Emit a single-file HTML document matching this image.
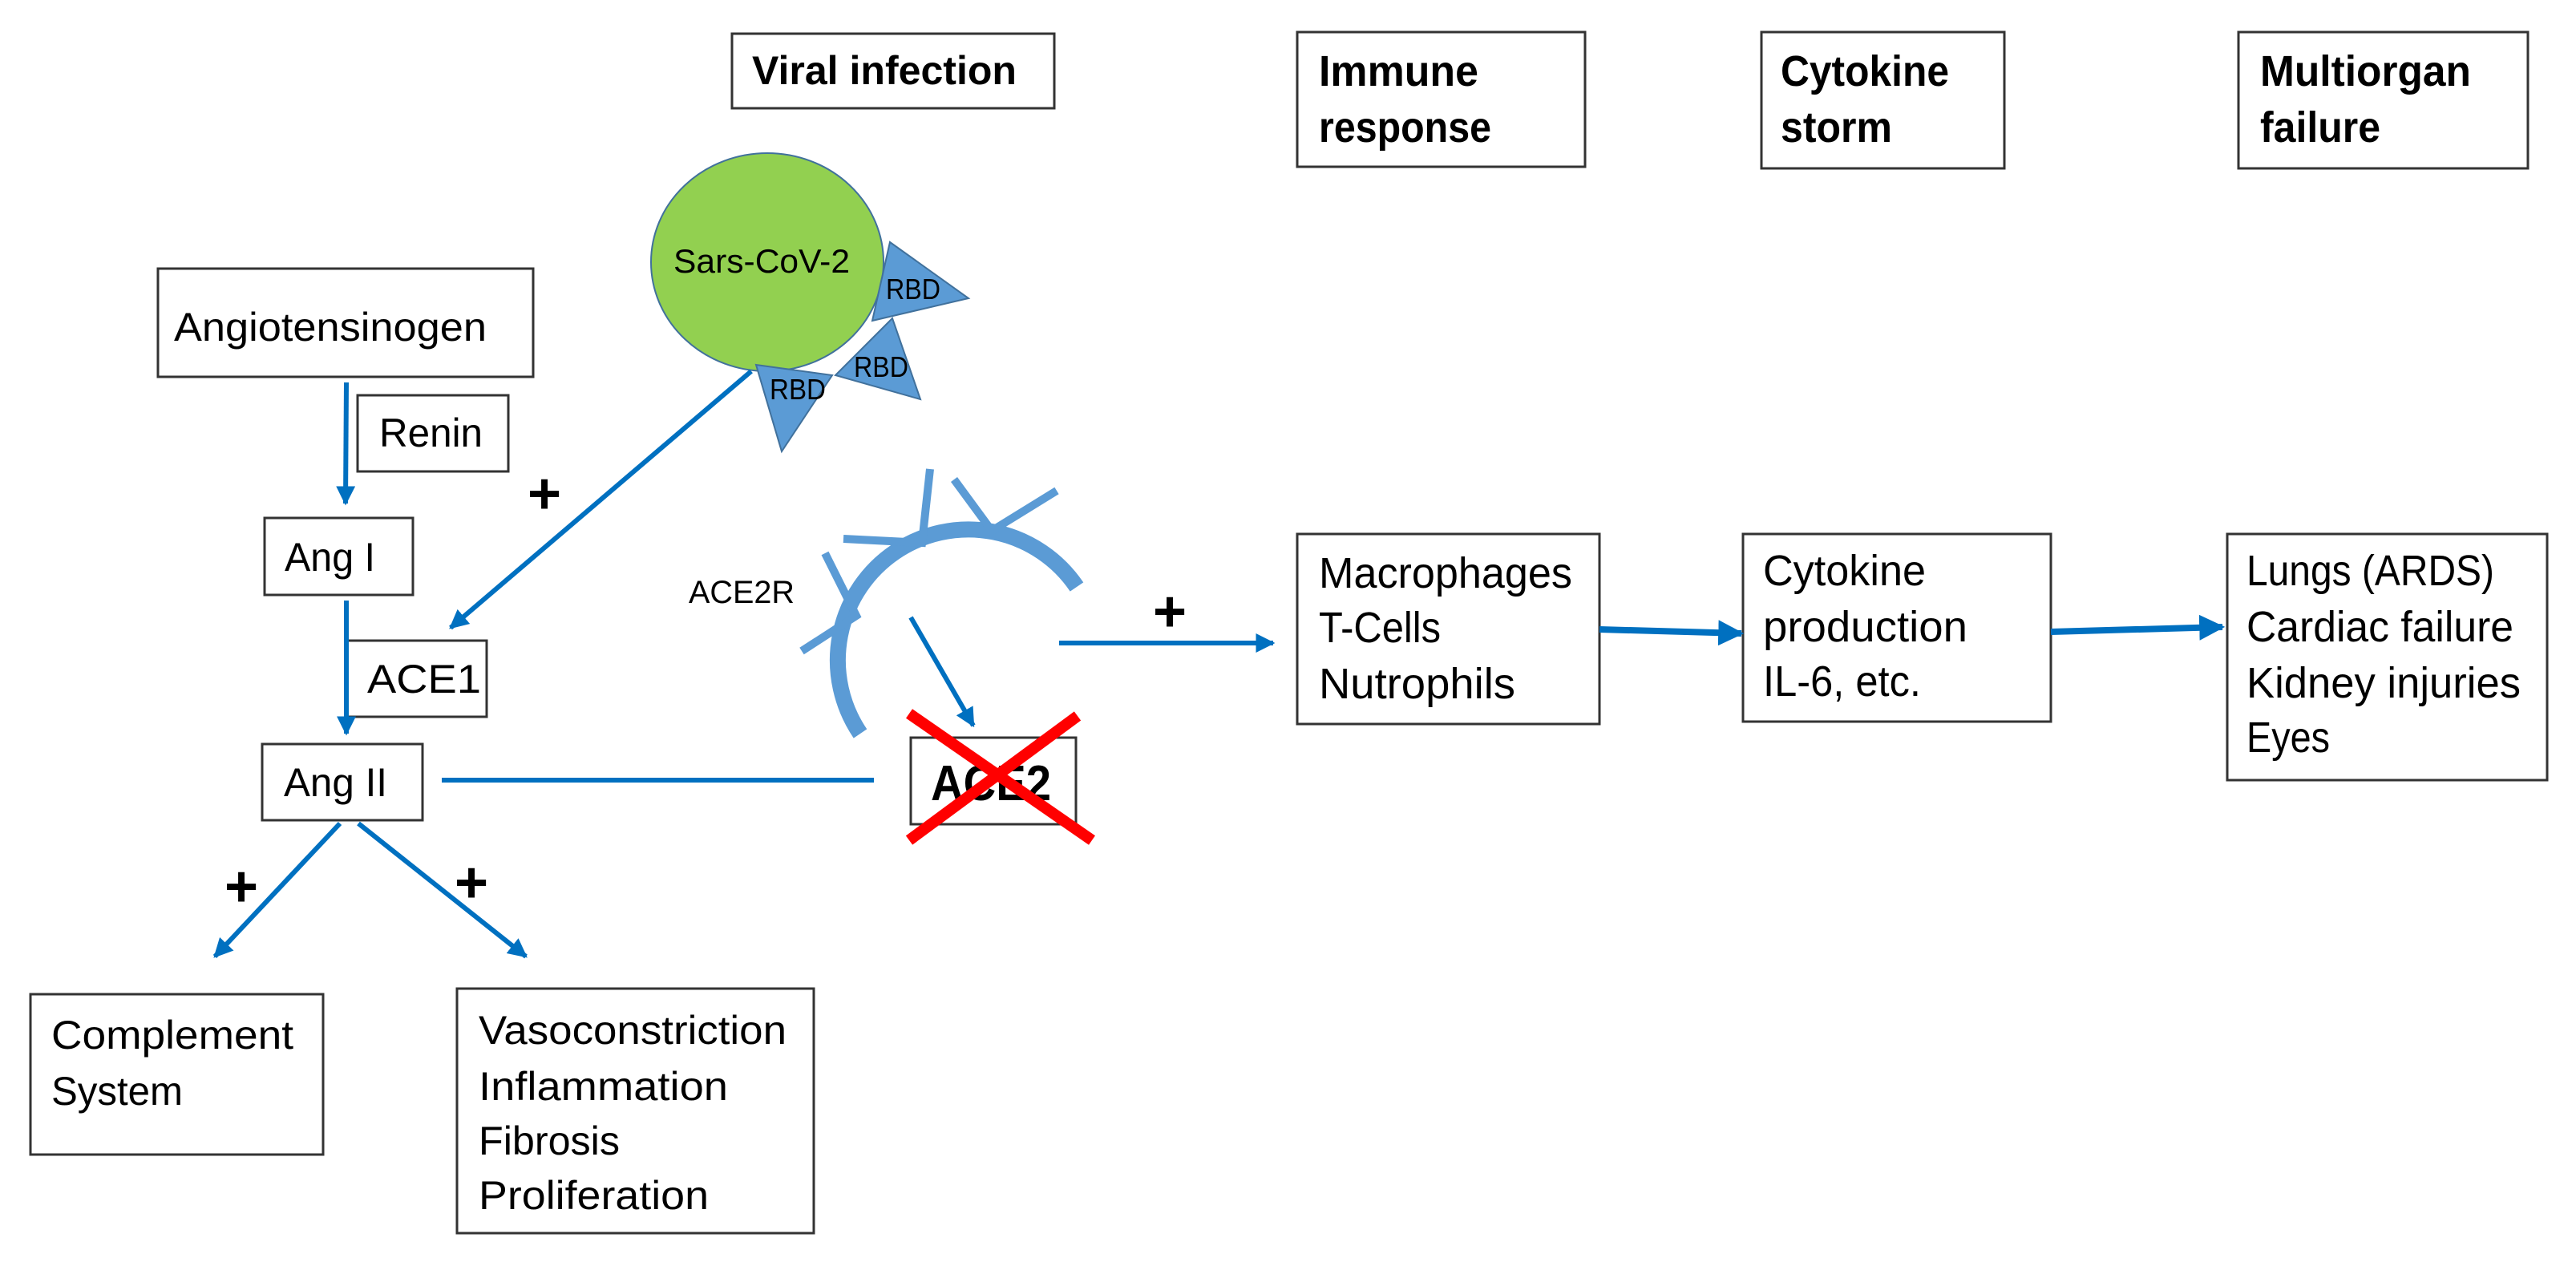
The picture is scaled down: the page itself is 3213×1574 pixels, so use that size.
<!DOCTYPE html>
<html><head><meta charset="utf-8"><style>
html,body{margin:0;padding:0;background:#fff}
svg{display:block}
text{font-family:"Liberation Sans",sans-serif;fill:#000}
</style></head><body>
<svg width="3213" height="1574" viewBox="0 0 3213 1574" xmlns="http://www.w3.org/2000/svg">
<defs>
<marker id="ah" viewBox="0 0 10 10" refX="9" refY="5" markerWidth="4" markerHeight="4" orient="auto" markerUnits="strokeWidth">
<path d="M0,0 L10,5 L0,10 z" fill="#0070C0"/></marker>
</defs>
<g fill="none" stroke="#333" stroke-width="3">
<rect x="913" y="42" width="402" height="93"/>
<rect x="1618" y="40" width="359" height="168"/>
<rect x="2197" y="40" width="303" height="170"/>
<rect x="2792" y="40" width="361" height="170"/>
<rect x="197" y="335" width="468" height="135"/>
<rect x="446" y="493" width="188" height="95"/>
<rect x="330" y="646" width="185" height="96"/>
<rect x="432" y="799" width="175" height="95"/>
<rect x="327" y="928" width="200" height="95"/>
<rect x="1136" y="920" width="206" height="108"/>
<rect x="38" y="1240" width="365" height="200"/>
<rect x="570" y="1233" width="445" height="305"/>
<rect x="1618" y="666" width="377" height="237"/>
<rect x="2174" y="666" width="384" height="234"/>
<rect x="2778" y="666" width="399" height="307"/>
</g>
<g font-weight="bold" font-size="54">
<text x="938" y="105" font-size="50" textLength="330" lengthAdjust="spacingAndGlyphs">Viral infection</text>
<text x="1645" y="107" textLength="199" lengthAdjust="spacingAndGlyphs">Immune</text>
<text x="1645" y="177" textLength="215" lengthAdjust="spacingAndGlyphs">response</text>
<text x="2221" y="107" textLength="210" lengthAdjust="spacingAndGlyphs">Cytokine</text>
<text x="2221" y="177" textLength="139" lengthAdjust="spacingAndGlyphs">storm</text>
<text x="2819" y="107" textLength="263" lengthAdjust="spacingAndGlyphs">Multiorgan</text>
<text x="2819" y="177" textLength="150" lengthAdjust="spacingAndGlyphs">failure</text>
</g>
<ellipse cx="957" cy="327" rx="145" ry="136" fill="#92D050" stroke="#41719C" stroke-width="2"/>
<g fill="#5B9BD5" stroke="#41719C" stroke-width="2">
<polygon points="1110,302 1208,372 1088,400"/>
<polygon points="1113,397 1148,498 1042,468"/>
<polygon points="943,455 1038,468 975,563"/>
</g>
<text x="840" y="340" font-size="42" textLength="220" lengthAdjust="spacingAndGlyphs">Sars-CoV-2</text>
<g font-size="36">
<text x="1105" y="373" textLength="68" lengthAdjust="spacingAndGlyphs">RBD</text>
<text x="1065" y="470" textLength="68" lengthAdjust="spacingAndGlyphs">RBD</text>
<text x="960" y="498" textLength="70" lengthAdjust="spacingAndGlyphs">RBD</text>
</g>
<path d="M1073,915 A151,151 0 1 1 1343,732" fill="none" stroke="#5B9BD5" stroke-width="20"/>
<g fill="none" stroke="#5B9BD5" stroke-width="10" stroke-linejoin="miter">
<polyline points="1029,690 1068,768 1000,812"/>
<polyline points="1160,585 1150,677 1052,672"/>
<polyline points="1190,598 1237,662 1318,612"/>
</g>
<text x="859" y="752" font-size="40" textLength="132" lengthAdjust="spacingAndGlyphs">ACE2R</text>
<g font-size="50">
<text x="217" y="425" textLength="390" lengthAdjust="spacingAndGlyphs">Angiotensinogen</text>
<text x="473" y="557" textLength="129" lengthAdjust="spacingAndGlyphs">Renin</text>
<text x="355" y="712" textLength="113" lengthAdjust="spacingAndGlyphs">Ang I</text>
<text x="458" y="864" textLength="142" lengthAdjust="spacingAndGlyphs">ACE1</text>
<text x="354" y="993" textLength="129" lengthAdjust="spacingAndGlyphs">Ang II</text>
<text x="64" y="1308" textLength="302" lengthAdjust="spacingAndGlyphs">Complement</text>
<text x="64" y="1378" textLength="164" lengthAdjust="spacingAndGlyphs">System</text>
<text x="597" y="1302" textLength="384" lengthAdjust="spacingAndGlyphs">Vasoconstriction</text>
<text x="597" y="1372" textLength="311" lengthAdjust="spacingAndGlyphs">Inflammation</text>
<text x="597" y="1440" textLength="176" lengthAdjust="spacingAndGlyphs">Fibrosis</text>
<text x="597" y="1508" textLength="287" lengthAdjust="spacingAndGlyphs">Proliferation</text>
</g>
<text x="1161" y="998" font-size="62" font-weight="bold" textLength="150" lengthAdjust="spacingAndGlyphs">ACE2</text>
<g font-size="54">
<text x="1645" y="733" textLength="316" lengthAdjust="spacingAndGlyphs">Macrophages</text>
<text x="1645" y="801" textLength="152" lengthAdjust="spacingAndGlyphs">T-Cells</text>
<text x="1645" y="871" textLength="245" lengthAdjust="spacingAndGlyphs">Nutrophils</text>
<text x="2199" y="730" textLength="203" lengthAdjust="spacingAndGlyphs">Cytokine</text>
<text x="2199" y="800" textLength="255" lengthAdjust="spacingAndGlyphs">production</text>
<text x="2199" y="868" textLength="197" lengthAdjust="spacingAndGlyphs">IL-6, etc.</text>
<text x="2802" y="730" textLength="309" lengthAdjust="spacingAndGlyphs">Lungs (ARDS)</text>
<text x="2802" y="800" textLength="333" lengthAdjust="spacingAndGlyphs">Cardiac failure</text>
<text x="2802" y="870" textLength="342" lengthAdjust="spacingAndGlyphs">Kidney injuries</text>
<text x="2802" y="938" textLength="104" lengthAdjust="spacingAndGlyphs">Eyes</text>
</g>
<g stroke="#0070C0" stroke-width="6" fill="none">
<line x1="432" y1="477" x2="431" y2="628" marker-end="url(#ah)"/>
<line x1="432" y1="749" x2="432" y2="915" marker-end="url(#ah)"/>
<line x1="937" y1="463" x2="562" y2="783" marker-end="url(#ah)"/>
<line x1="551" y1="973" x2="1090" y2="973"/>
<line x1="1136" y1="770" x2="1214" y2="905" marker-end="url(#ah)"/>
<line x1="424" y1="1027" x2="268" y2="1193" marker-end="url(#ah)"/>
<line x1="447" y1="1027" x2="656" y2="1193" marker-end="url(#ah)"/>
<line x1="1321" y1="802" x2="1588" y2="802" marker-end="url(#ah)"/>
<line x1="1995" y1="785" x2="2172" y2="790" stroke-width="8" marker-end="url(#ah)"/>
<line x1="2558" y1="788" x2="2772" y2="782" stroke-width="8" marker-end="url(#ah)"/>
</g>
<g stroke="#FF0000" stroke-width="14">
<line x1="1134" y1="890" x2="1362" y2="1048"/>
<line x1="1344" y1="893" x2="1134" y2="1048"/>
</g>
<g font-size="72" font-weight="bold" text-anchor="middle">
<text x="679" y="640">+</text>
<text x="301" y="1130">+</text>
<text x="588" y="1125">+</text>
<text x="1459" y="787">+</text>
</g>
</svg>
</body></html>
